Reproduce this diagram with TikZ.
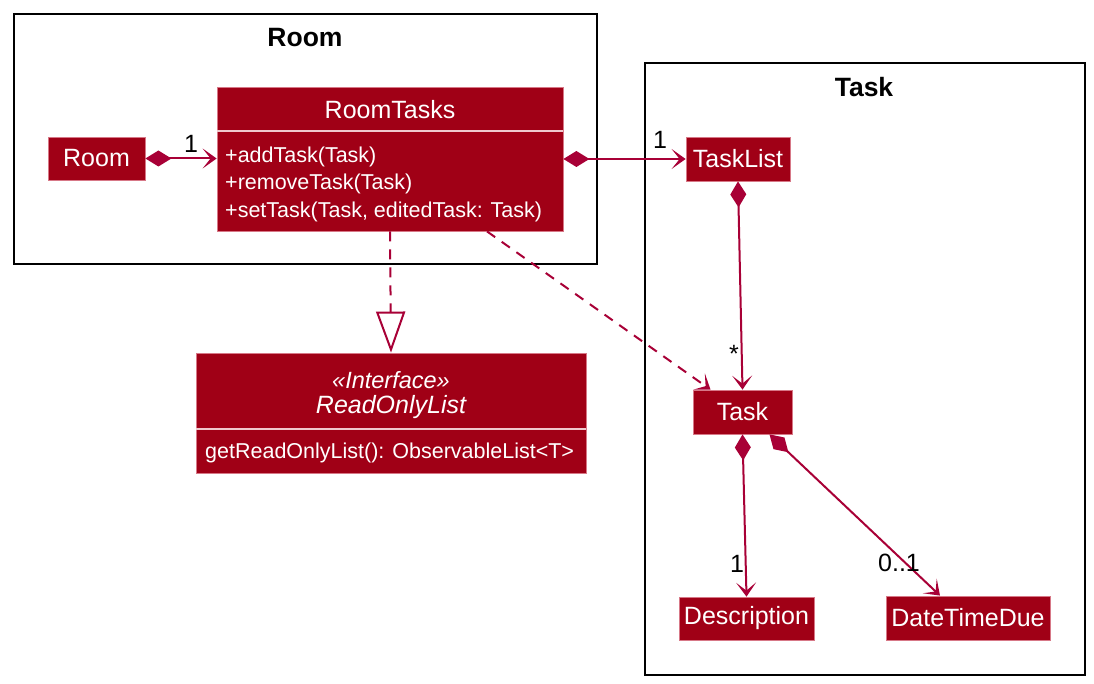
\documentclass[tikz,border=0pt]{standalone}
\usepackage{fontspec}
\setmainfont{Liberation Sans}
\usetikzlibrary{arrows.meta}
\definecolor{cfill}{RGB}{160,0,22}
\definecolor{cborder}{RGB}{215,120,135}
\definecolor{cline}{RGB}{168,0,54}
\definecolor{cdiv}{RGB}{240,200,205}
\begin{document}
\begin{tikzpicture}[x=1pt,y=-1pt,
  cls/.style={draw=cborder, line width=0.8pt, fill=cfill, text=white, inner sep=0pt,
    font=\fontsize{25}{29}\selectfont},
  wtext/.style={text=white, inner sep=0pt},
  members/.style={wtext, align=left, font=\fontsize{21.5}{27.5}\selectfont},
  divider/.style={draw=cdiv, line width=1.2pt},
  frame/.style={draw=black, line width=2.6pt},
  title/.style={inner sep=0pt, font=\bfseries\fontsize{26.5}{30}\selectfont},
  assoc/.style={draw=cline, line width=2pt,
    {Diamond[length=26pt,width=16pt]}-{Stealth[length=14pt,width=20pt,inset=8pt]}},
  dep/.style={draw=cline, line width=2pt, dash pattern=on 10pt off 8pt,
    -{Stealth[length=14pt,width=20pt,inset=8pt]}},
  real/.style={draw=cline, line width=2pt, dash pattern=on 10pt off 8pt,
    -{Triangle[open,length=41pt,width=29pt]}},
  mult/.style={inner sep=0pt, font=\fontsize{25}{29}\selectfont}]
\useasboundingbox (0,0) rectangle (1094,684);

% frames
\draw[frame] (14,14) rectangle (597,264);
\node[title] (roomtitle) at (305,38) {Room};
\draw[frame] (645,63) rectangle (1085,675);
\node[title] (tasktitle) at (864,87) {Task};

% Room package
\node[cls, minimum width=97pt, minimum height=43pt] (room) at (96.5,158.5) {Room};
\node[cls, minimum width=346pt, minimum height=144pt] (rt) at (390,159) {};
\node[wtext, font=\fontsize{25}{29}\selectfont] (rtname) at (390,110) {RoomTasks};
\draw[divider] (rt.west |- 0,131) -- (rt.east |- 0,131);
\node[members, anchor=west] (rtm) at (225,184) {+addTask(Task)\\+removeTask(Task)\\+setTask(Task, editedTask: Task)};

% Interface
\node[cls, minimum width=390pt, minimum height=120pt] (rol) at (391,413) {};
\node[wtext, font=\itshape\fontsize{23.5}{27}\selectfont] (rolst) at (391,380) {«Interface»};
\node[wtext, font=\itshape\fontsize{25}{29}\selectfont] (rolname) at (391,407) {ReadOnlyList};
\draw[divider] (rol.west |- 0,429) -- (rol.east |- 0,429);
\node[members, anchor=west] (rolm) at (205,453) {getReadOnlyList(): ObservableList<T>};

% Task package
\node[cls, minimum width=104pt, minimum height=44pt] (tl) at (738,159) {TaskList};
\node[cls, minimum width=99pt, minimum height=44pt] (task) at (742.5,412) {Task};
\node[cls, minimum width=135pt, minimum height=43pt] (desc) at (746.5,618.5) {Description};
\node[cls, minimum width=164pt, minimum height=44pt] (dtd) at (968,618) {DateTimeDue};

% connectors
\draw[assoc] (room.east) -- (room.east -| rt.west);
\draw[assoc] (rt.east |- tl.west) -- (tl.west);
\draw[assoc] (tl.south) -- (task.north);
\draw[assoc] (task.south) -- (desc.north);
\coordinate (ts) at ([xshift=27pt]task.south);
\coordinate (de) at ([xshift=-28pt]dtd.north);
\draw[assoc] (ts) -- (de);
\draw[dep] ([xshift=97pt]rt.south) -- ([xshift=-32pt]task.north);
\draw[real] (rt.south) -- (rol.north);

% multiplicities
\node[mult] (m1) at (191,144) {1};
\node[mult] (m2) at (660,140) {1};
\node[mult] (m3) at (734,354) {*};
\node[mult] (m4) at (737,564) {1};
\node[mult] (m5) at (899,563) {0..1};
\end{tikzpicture}
\end{document}
